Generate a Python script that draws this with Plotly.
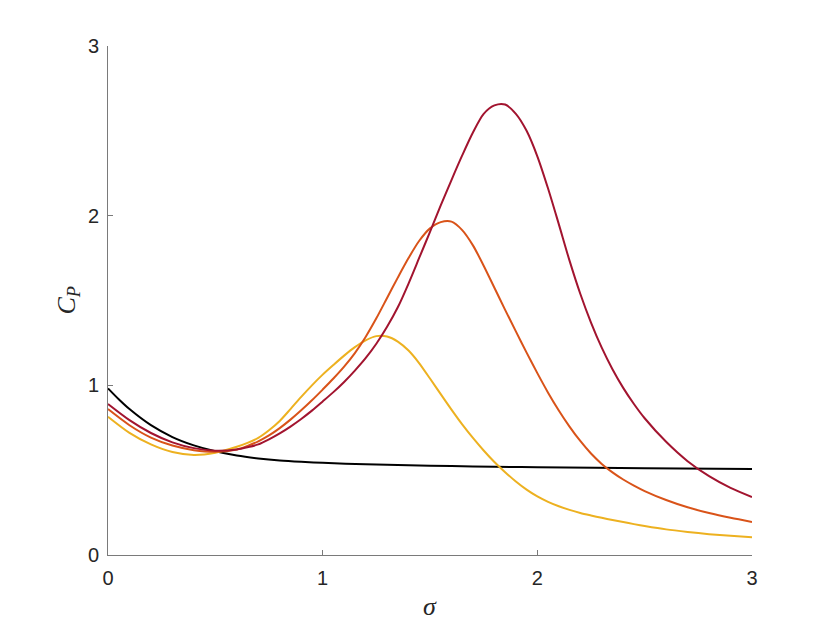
import plotly.graph_objects as go

# Black reference curve
sigma_black = [0, 0.05, 0.1, 0.2, 0.3, 0.4, 0.5, 0.6, 0.7, 0.8, 0.9, 1.0, 1.2, 1.4, 1.6, 1.8, 2.0, 2.5, 3.0]
cp_black = [0.982, 0.918, 0.86, 0.765, 0.695, 0.646, 0.611, 0.586, 0.569, 0.557, 0.549, 0.543,
            0.535, 0.529, 0.524, 0.52, 0.517, 0.512, 0.507]

# Sample positions read for the coloured curves
sigma_grid = [0, 0.1, 0.2, 0.3, 0.4, 0.5, 0.6, 0.65, 0.7, 0.75, 0.8, 0.85, 0.9, 0.95, 1.0,
              1.05, 1.1, 1.15, 1.2, 1.25, 1.3, 1.35, 1.4, 1.45, 1.5, 1.55, 1.6, 1.65, 1.7, 1.75,
              1.8, 1.85, 1.9, 1.95, 2.0, 2.05, 2.1, 2.15, 2.2, 2.25, 2.3, 2.35, 2.4, 2.45, 2.5,
              2.6, 2.7, 2.8, 2.9, 3.0]

# Yellow curve
cp_yellow = [0.815, 0.72, 0.652, 0.607, 0.59, 0.603, 0.638, 0.661, 0.69, 0.735, 0.79, 0.86, 0.932, 1.0, 1.063,
             1.12, 1.175, 1.225, 1.265, 1.29, 1.288, 1.258, 1.205, 1.13, 1.04, 0.948, 0.857, 0.77, 0.69, 0.616,
             0.548, 0.488, 0.433, 0.385, 0.345, 0.313, 0.287, 0.266, 0.248, 0.233, 0.219, 0.206, 0.194, 0.182, 0.171,
             0.151, 0.136, 0.123, 0.113, 0.105]

# Orange curve
cp_orange = [0.86, 0.765, 0.692, 0.645, 0.618, 0.608, 0.622, 0.643, 0.67, 0.705, 0.748, 0.798, 0.853, 0.912, 0.975,
             1.04, 1.11, 1.19, 1.285, 1.395, 1.515, 1.635, 1.75, 1.852, 1.925, 1.962, 1.965, 1.915, 1.825, 1.705,
             1.575, 1.445, 1.318, 1.193, 1.072, 0.957, 0.852, 0.757, 0.672, 0.598, 0.537, 0.487, 0.445, 0.409, 0.377,
             0.324, 0.281, 0.247, 0.219, 0.195]

# Dark red curve
cp_red = [0.89, 0.795, 0.719, 0.664, 0.63, 0.615, 0.622, 0.635, 0.652, 0.682, 0.717, 0.757, 0.802, 0.851, 0.905,
          0.96, 1.02, 1.087, 1.16, 1.245, 1.345, 1.46, 1.6, 1.752, 1.905, 2.06, 2.21, 2.355, 2.49, 2.6,
          2.65, 2.655, 2.6, 2.5, 2.35, 2.16, 1.95, 1.735, 1.54, 1.37, 1.222, 1.095, 0.985, 0.89, 0.806,
          0.667, 0.553, 0.465, 0.396, 0.342]

x_ticks = [0, 1, 2, 3]
y_ticks = [0, 1, 2, 3]

fig = go.Figure()
series = [
    (sigma_black, cp_black, "#000000"),
    (sigma_grid, cp_yellow, "#EDB120"),
    (sigma_grid, cp_orange, "#D95319"),
    (sigma_grid, cp_red, "#A2142F"),
]
for xs, ys, col in series:
    fig.add_trace(go.Scatter(x=xs, y=ys, mode="lines",
                             line=dict(color=col, width=2, shape="spline", smoothing=0.8),
                             showlegend=False, hoverinfo="skip"))

axis_common = dict(
    showgrid=False, zeroline=False, showline=True, linecolor="#7a7a7a", linewidth=1,
    ticks="inside", ticklen=5, tickcolor="#7a7a7a", tickwidth=1,
    tickfont=dict(family="Liberation Sans, Arial, sans-serif", size=20, color="#262626"),
    mirror=False,
)

fig.update_layout(
    width=822, height=615,
    margin=dict(l=100, r=78, t=38, b=68),
    paper_bgcolor="white", plot_bgcolor="white",
    xaxis=dict(range=[0, 3], tickvals=x_ticks, ticktext=[str(v) for v in x_ticks],
               ticklabelstandoff=5, **axis_common),
    yaxis=dict(range=[0, 3], tickvals=y_ticks, ticktext=[str(v) for v in y_ticks],
               ticklabelstandoff=4, **axis_common),
    annotations=[
        dict(text="<i>σ</i>", xref="paper", yref="paper", x=0.5, y=0, yshift=-51,
             showarrow=False, xanchor="center", yanchor="middle",
             font=dict(family="Liberation Serif, Times New Roman, serif", size=26, color="#262626")),
        dict(text="<i>C<sub>P</sub></i>", xref="paper", yref="paper", x=0, y=0.5, xshift=-41,
             showarrow=False, xanchor="center", yanchor="middle", textangle=-90,
             font=dict(family="Liberation Serif, Times New Roman, serif", size=26, color="#262626")),
    ],
)

fig.write_html("out.html")
